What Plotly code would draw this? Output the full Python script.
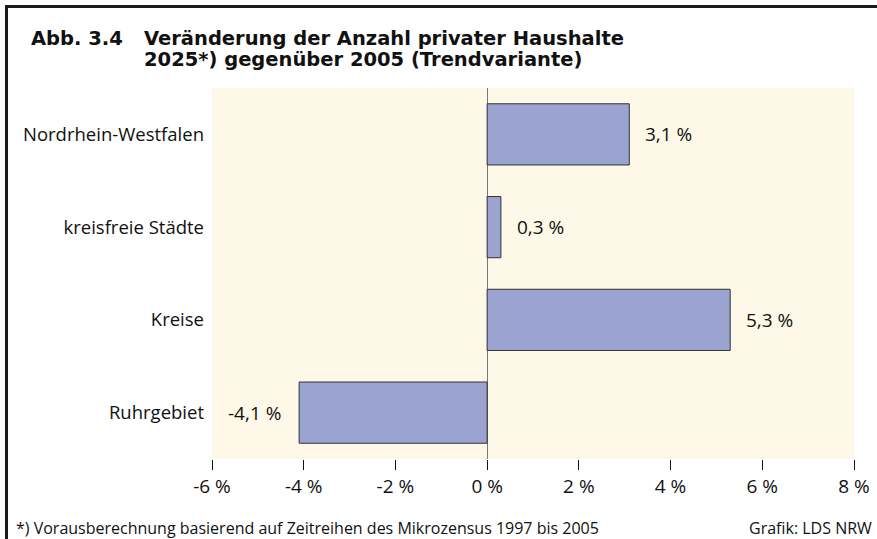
import plotly.graph_objects as go

categories = ["Nordrhein-Westfalen", "kreisfreie Städte", "Kreise", "Ruhrgebiet"]
values = [3.1, 0.3, 5.3, -4.1]
value_labels = ["3,1 %", "0,3 %", "5,3 %", "-4,1 %"]
tick_vals = [-6, -4, -2, 0, 2, 4, 6, 8]
tick_text = ["-6 %", "-4 %", "-2 %", "0 %", "2 %", "4 %", "6 %", "8 %"]

FONT = "Open Sans"
TFONT = "DejaVu Sans"
W, H = 877, 539
L, R, T, B = 212, 23, 88, 80
pw, ph = W - L - R, H - T - B

fig = go.Figure()
fig.add_trace(go.Bar(
    y=categories, x=values, orientation="h",
    marker=dict(color="#9BA3D0", line=dict(color="#333333", width=1)),
    width=0.66, hoverinfo="skip",
))

annotations = []
for c, v, t in zip(categories, values, value_labels):
    annotations.append(dict(
        x=v, y=c, xref="x", yref="y", text=t, showarrow=False,
        xanchor="left" if v >= 0 else "right",
        xshift=14 if v >= 0 else -16,
        font=dict(family=FONT, size=19, color="#111111"),
    ))

def px_x(px):
    return (px - L) / pw

def px_y(py):
    return 1 - (py - T) / ph

annotations += [
    dict(x=px_x(29), y=px_y(38), xref="paper", yref="paper", xanchor="left", yanchor="middle",
         text="<b>Abb. 3.4</b>", showarrow=False, align="left",
         font=dict(family=TFONT, size=19.5, color="#111111")),
    dict(x=px_x(142), y=px_y(38), xref="paper", yref="paper", xanchor="left", yanchor="middle",
         text="<b>Veränderung der Anzahl privater Haushalte</b>",
         showarrow=False, align="left",
         font=dict(family=TFONT, size=19.5, color="#111111")),
    dict(x=px_x(142), y=px_y(59), xref="paper", yref="paper", xanchor="left", yanchor="middle",
         text="<b>2025*) gegenüber 2005 (Trendvariante)</b>",
         showarrow=False, align="left",
         font=dict(family=TFONT, size=19.5, color="#111111")),
    dict(x=px_x(14), y=px_y(528), xref="paper", yref="paper", xanchor="left", yanchor="middle",
         text="*) Vorausberechnung basierend auf Zeitreihen des Mikrozensus 1997 bis 2005",
         showarrow=False, font=dict(family=FONT, size=16, color="#111111")),
    dict(x=px_x(874), y=px_y(528), xref="paper", yref="paper", xanchor="right", yanchor="middle",
         text="Grafik: LDS NRW",
         showarrow=False, font=dict(family=FONT, size=16, color="#111111")),
]

shapes = [
    dict(type="line", xref="paper", yref="paper", x0=px_x(6.5), x1=px_x(W + 5),
         y0=px_y(6.5), y1=px_y(6.5), line=dict(color="#1a1a1a", width=3)),
    dict(type="line", xref="paper", yref="paper", x0=px_x(6.5), x1=px_x(6.5),
         y0=px_y(5), y1=px_y(H + 5), line=dict(color="#1a1a1a", width=3)),
]

fig.update_layout(
    width=W, height=H,
    margin=dict(l=L, r=R, t=T, b=B, autoexpand=False),
    paper_bgcolor="white", plot_bgcolor="#FDF8E7",
    showlegend=False,
    font=dict(family=FONT, size=18, color="#111111"),
    annotations=annotations, shapes=shapes,
    xaxis=dict(range=[-6, 8], tickvals=tick_vals, ticktext=tick_text,
               showgrid=False, zeroline=True, zerolinecolor="#777777", zerolinewidth=1,
               ticks="outside", ticklen=10, tickcolor="#111111", tickwidth=1,
               showline=False, tickfont=dict(family=FONT, size=19), fixedrange=True,
               automargin=False),
    yaxis=dict(categoryorder="array", categoryarray=categories, autorange="reversed",
               showgrid=False, zeroline=False, showline=False, ticks="",
               ticklabelstandoff=7, automargin=False,
               tickfont=dict(family=FONT, size=18.5), fixedrange=True),
)

fig.write_html("out.html", config={"displayModeBar": False},
               post_script="document.body.style.margin='0';document.body.style.padding='0';")
